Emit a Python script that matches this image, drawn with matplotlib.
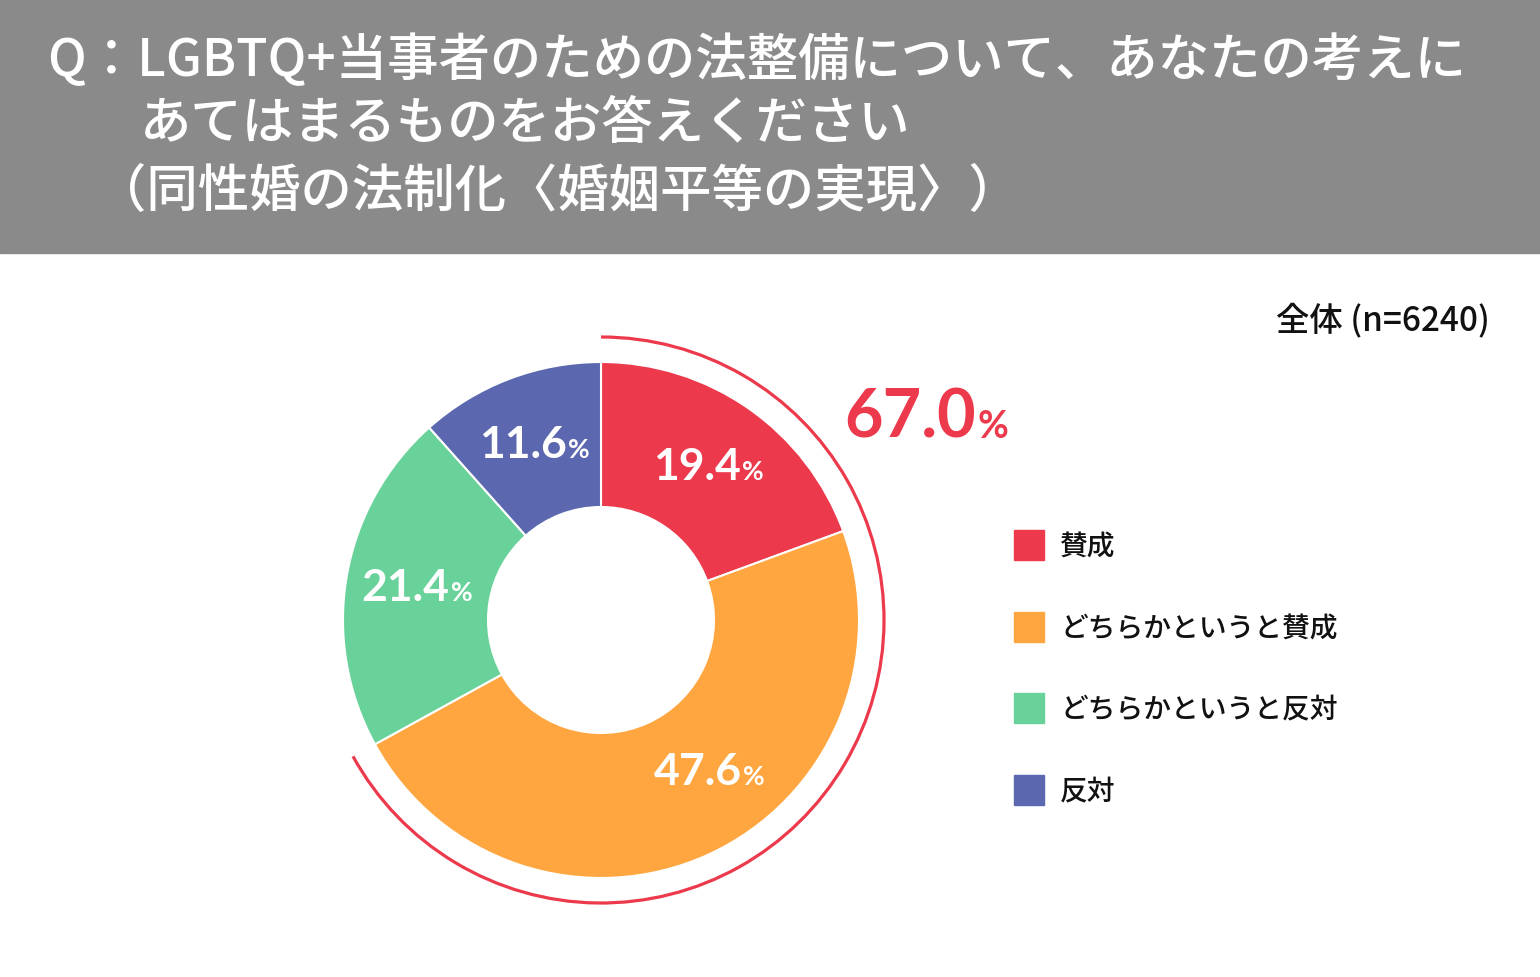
import numpy as np
import matplotlib
matplotlib.use('Agg')
import matplotlib.pyplot as plt
from matplotlib.patches import Rectangle, Arc
from matplotlib.offsetbox import TextArea, HPacker, AnnotationBbox

plt.rcParams['font.family'] = ['Noto Sans CJK JP', 'DejaVu Sans']

# data
labels = ['賛成', 'どちらかというと賛成', 'どちらかというと反対', '反対']
values = [19.4, 47.6, 21.4, 11.6]
colors = ['#EC3A4C', '#FFA641', '#68D29A', '#5B68AF']
title_lines = ['Q：LGBTQ+当事者のための法整備について、あなたの考えに',
               'あてはまるものをお答えください',
               '（同性婚の法制化〈婚姻平等の実現〉）']
base_text = '全体 (n=6240)'
agree_total = values[0] + values[1]

W, H = 1540, 977
fig = plt.figure(figsize=(W / 100, H / 100), dpi=100, facecolor='white')
ax = fig.add_axes([0, 0, 1, 1])


def Y(y):
    # image row -> data y
    return H - y


# donut
cx, cy = 601, Y(620)
R = 258
hole = 113
wedges, _ = ax.pie(values, colors=colors, startangle=90, counterclock=False,
                   radius=R, center=(cx, cy),
                   wedgeprops=dict(width=R - hole, edgecolor='white', linewidth=1.5))

# header band
ax.add_patch(Rectangle((0, Y(253)), W, 253, color='#8A8A8A', zorder=0))
ax.text(47, Y(60), title_lines[0], color='white', fontsize=37, fontweight='medium',
        va='center', ha='left')
ax.text(140, Y(124), title_lines[1], color='white', fontsize=37, fontweight='medium',
        va='center', ha='left')
ax.text(95, Y(192), title_lines[2], color='white', fontsize=37, fontweight='medium',
        va='center', ha='left')

ax.text(1490, Y(321), base_text, color='#111111', fontsize=24, fontweight='medium',
        va='center', ha='right')

# percentage labels on wedges
num_props = dict(color='white', fontsize=32, fontweight='bold', family='Lato')
pct_props = dict(color='white', fontsize=19, fontweight='bold', family='Lato')
shift = [0, 11, 0, 0]
start = 90.0
for i, v in enumerate(values):
    mid = start - v * 3.6 / 2 + shift[i]
    start -= v * 3.6
    r = 187
    x = cx + r * np.cos(np.radians(mid))
    y = cy + r * np.sin(np.radians(mid))
    box = HPacker(children=[TextArea(f'{v:.1f}', textprops=num_props),
                            TextArea('%', textprops=pct_props)],
                  align='baseline', pad=0, sep=1)
    ax.add_artist(AnnotationBbox(box, (x, y), frameon=False, box_alignment=(0.5, 0.5)))

# agree bracket arc
ax.add_patch(Arc((cx, cy), 2 * 283, 2 * 283, theta1=90 - agree_total * 3.6, theta2=90,
                 color='#EC3A4C', linewidth=2.3))
big = HPacker(children=[TextArea(f'{agree_total:.1f}',
                                 textprops=dict(color='#EC3A4C', fontsize=48, fontweight='bold', family='Lato')),
                        TextArea('%', textprops=dict(color='#EC3A4C', fontsize=27, fontweight='bold', family='Lato'))],
              align='baseline', pad=0, sep=1)
ax.add_artist(AnnotationBbox(big, (926, Y(419)), frameon=False, box_alignment=(0.5, 0.5)))

# legend
for i, lab in enumerate(labels):
    ly = Y(545 + i * 81.7)
    ax.add_patch(Rectangle((1014, ly - 15), 30, 30, color=colors[i]))
    ax.text(1060, ly - 2, lab, fontsize=20, fontweight='medium', color='#111111',
            va='center', ha='left')

ax.set_xlim(0, W)
ax.set_ylim(0, H)
ax.set_aspect('equal')
ax.axis('off')

fig.savefig('out.png', dpi=100, facecolor='white')
